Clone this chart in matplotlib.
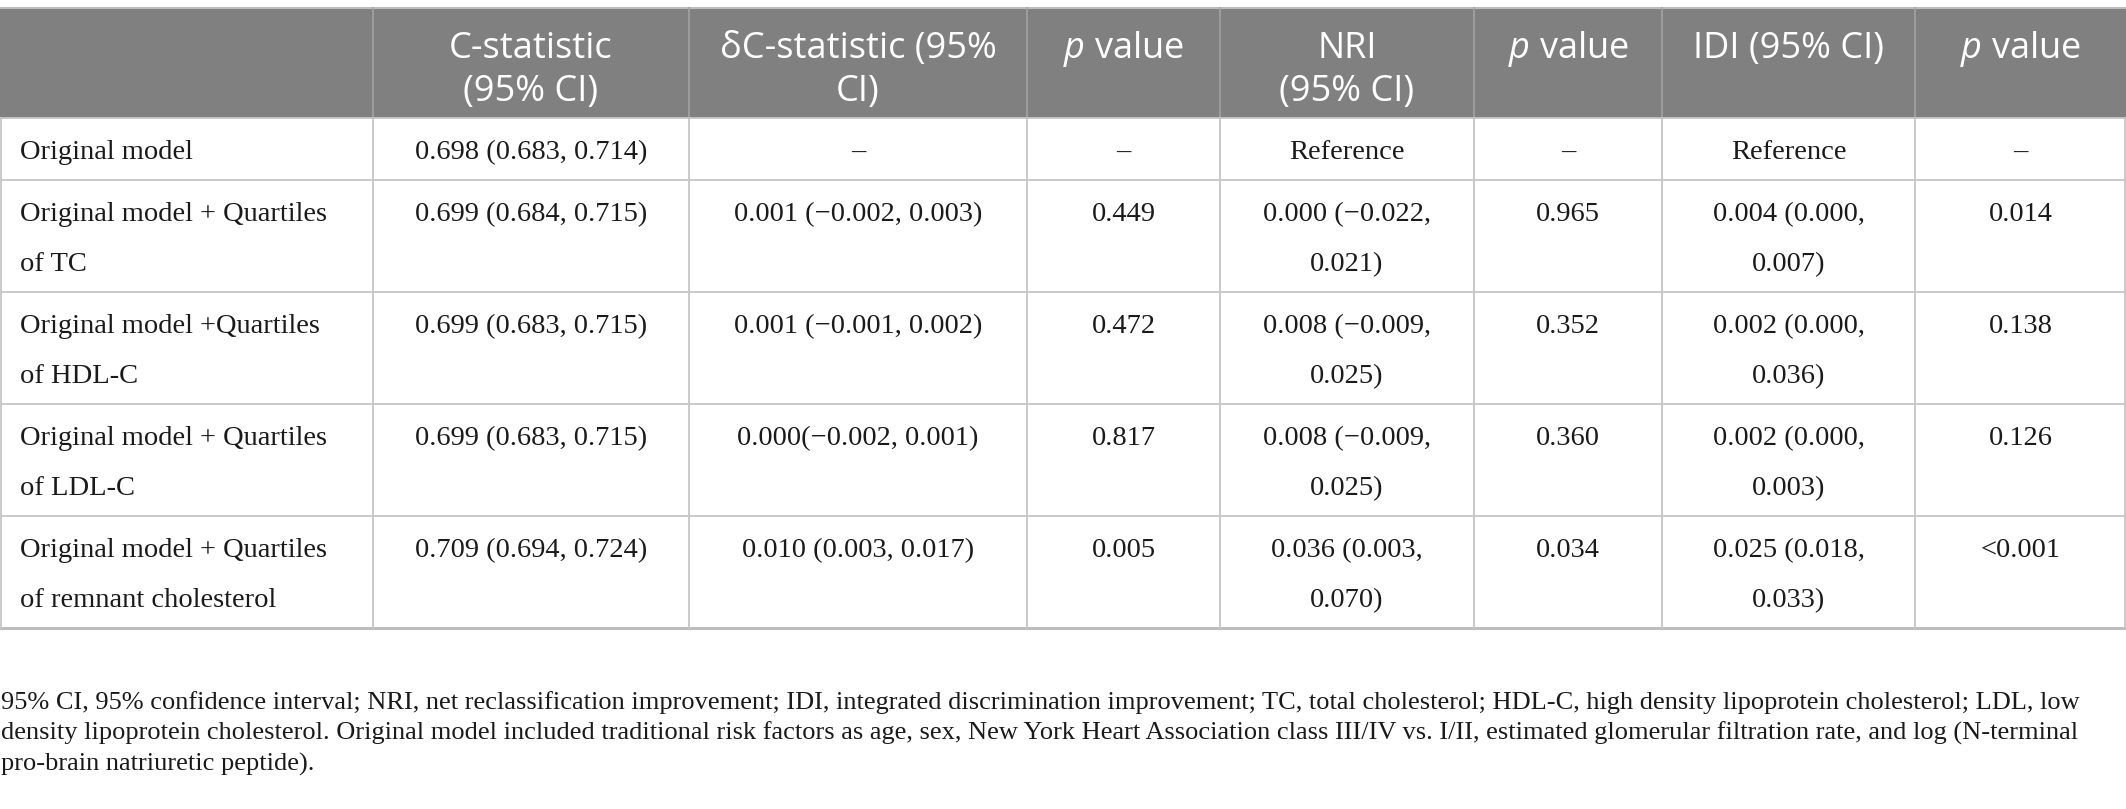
import matplotlib
matplotlib.use("Agg")
import matplotlib.pyplot as plt

plt.rcParams['mathtext.fontset'] = 'custom'
plt.rcParams['mathtext.rm'] = 'Open Sans'
plt.rcParams['mathtext.it'] = 'Open Sans:italic'

W, H = 2126, 809

headers = ["", "C-statistic\n(95% CI)", "δC-statistic (95%\nCI)", "$p$ value",
           "NRI\n(95% CI)", "$p$ value", "IDI (95% CI)", "$p$ value"]
row_labels = ["Original model",
              "Original model + Quartiles\nof TC",
              "Original model +Quartiles\nof HDL-C",
              "Original model + Quartiles\nof LDL-C",
              "Original model + Quartiles\nof remnant cholesterol"]
c_stat = ["0.698 (0.683, 0.714)", "0.699 (0.684, 0.715)", "0.699 (0.683, 0.715)",
          "0.699 (0.683, 0.715)", "0.709 (0.694, 0.724)"]
delta_c = ["–", "0.001 (−0.002, 0.003)", "0.001 (−0.001, 0.002)",
           "0.000(−0.002, 0.001)", "0.010 (0.003, 0.017)"]
p_delta = ["–", "0.449", "0.472", "0.817", "0.005"]
nri = ["Reference", "0.000 (−0.022,\n0.021)", "0.008 (−0.009,\n0.025)",
       "0.008 (−0.009,\n0.025)", "0.036 (0.003,\n0.070)"]
p_nri = ["–", "0.965", "0.352", "0.360", "0.034"]
idi = ["Reference", "0.004 (0.000,\n0.007)", "0.002 (0.000,\n0.036)",
       "0.002 (0.000,\n0.003)", "0.025 (0.018,\n0.033)"]
p_idi = ["–", "0.014", "0.138", "0.126", "<0.001"]

footnote = ["95% CI, 95% confidence interval; NRI, net reclassification improvement; IDI, integrated discrimination improvement; TC, total cholesterol; HDL-C, high density lipoprotein cholesterol; LDL, low",
            "density lipoprotein cholesterol. Original model included traditional risk factors as age, sex, New York Heart Association class III/IV vs. I/II, estimated glomerular filtration rate, and log (N-terminal",
            "pro-brain natriuretic peptide)."]

# layout in pixels
col_edges = [0, 373, 689, 1027, 1220, 1474, 1662, 1915, 2126]
row_edges = [8, 118, 180, 292, 404, 516, 628]

columns = [row_labels, c_stat, delta_c, p_delta, nri, p_nri, idi, p_idi]

fig = plt.figure(figsize=(W / 100, H / 100), dpi=100)
ax = fig.add_axes([0, 0, 1, 1])
ax.set_xlim(0, W)
ax.set_ylim(H, 0)
ax.axis('off')

header_bg = '#808080'
grid = '#c6c6c6'
ink = '#1a1a1a'

ax.add_patch(plt.Rectangle((0, row_edges[0]), W, row_edges[1] - row_edges[0],
                           facecolor=header_bg, edgecolor='none'))

# grid lines
ax.plot([0, W], [row_edges[0], row_edges[0]], color='#bcbcbc', lw=1.5)
for y in row_edges[1:-1]:
    ax.plot([0, W], [y, y], color=grid, lw=1.3)
ax.plot([0, W], [row_edges[-1], row_edges[-1]], color='#bdbdbd', lw=2.2)
for i, x in enumerate(col_edges):
    if 0 < i < len(col_edges) - 1:
        ax.plot([x, x], [row_edges[0], row_edges[1]], color='#a2a2a2', lw=1.2)
        ax.plot([x, x], [row_edges[1], row_edges[-1]], color=grid, lw=1.3)
ax.plot([0.7, 0.7], [row_edges[1], row_edges[-1]], color=grid, lw=1.3)
ax.plot([W - 0.7, W - 0.7], [row_edges[1], row_edges[-1]], color=grid, lw=1.3)

# header text
for j, h in enumerate(headers):
    cx = (col_edges[j] + col_edges[j + 1]) / 2
    for k, line in enumerate(h.split("\n")):
        if line:
            ax.text(cx, row_edges[0] + 50 + k * 43, line, ha='center', va='baseline',
                    color='white', fontsize=26, family='Open Sans')

# body text
for j, col in enumerate(columns):
    for i, val in enumerate(col):
        top = row_edges[i + 1]
        for k, line in enumerate(val.split("\n")):
            if j == 0:
                ax.text(col_edges[0] + 20, top + 41 + k * 50, line, ha='left',
                        va='baseline', color=ink, fontsize=20.5, family='Liberation Serif')
            else:
                cx = (col_edges[j] + col_edges[j + 1]) / 2
                ax.text(cx, top + 41 + k * 50, line, ha='center', va='baseline',
                        color=ink, fontsize=20.5, family='Liberation Serif')

for k, line in enumerate(footnote):
    ax.text(1, 709 + k * 31, line, ha='left', va='baseline', color=ink,
            fontsize=19, family='Liberation Serif')

fig.savefig('out.png', dpi=100)
